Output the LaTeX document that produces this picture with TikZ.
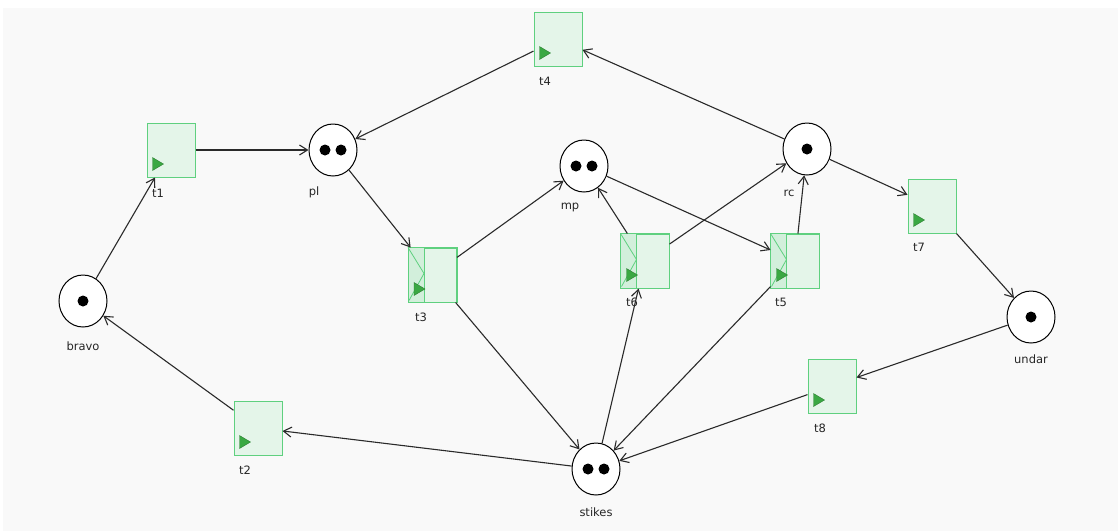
\documentclass[tikz,border=0pt]{standalone}
\usepackage{fontspec}
\setmainfont{DejaVu Sans}
\usetikzlibrary{arrows.meta,shapes.geometric,calc}
\definecolor{bg}{HTML}{F9F9F9}
\definecolor{tfill}{HTML}{E4F5E9}
\definecolor{tstrip}{HTML}{D2EFDB}
\definecolor{tdraw}{HTML}{5FD07F}
\definecolor{play}{HTML}{3AA843}
\definecolor{arc}{HTML}{2A2A2A}
\tikzset{
  place/.style={ellipse,draw=black,fill=white,line width=1pt,minimum width=48pt,minimum height=52pt,inner sep=0pt},
  trans/.style={rectangle,draw=tdraw,fill=tfill,line width=1pt,minimum width=48pt,minimum height=54pt,inner sep=0pt},
  lbl/.style={font=\fontsize{11.5}{13}\selectfont,text=black!85,inner sep=0pt},
  arcline/.style={draw=arc,line width=1.1pt,-{Straight Barb[length=8pt,width=10pt,line width=1.1pt]}},
  tok/.style={circle,fill=black,minimum size=11pt,inner sep=0pt}
}
\newcommand{\playicon}[1]{\fill[play,draw=play!75!black,line width=0.4pt] ($(#1.south west)+(6,-7)$) -- ++(0,-13) -- ++(11,6.5) -- cycle;}
\newcommand{\stripicon}[1]{%
  \fill[tstrip] (#1.north west) rectangle ($(#1.south west)+(16,0)$);
  \draw[tdraw,line width=0.9pt] ($(#1.north west)+(16,0)$) -- ($(#1.south west)+(16,0)$);
  \draw[tdraw,line width=0.8pt] (#1.north west) -- ($(#1.north west)+(16,26)$) -- ($(#1.south west)+(1,-2)$);
  \draw[tdraw,line width=1pt] (#1.north west) rectangle (#1.south east);}
\begin{document}
\begin{tikzpicture}[x=1pt,y=-1pt]
\useasboundingbox (0,0) rectangle (1118,531);
\fill[bg] (3,8) rectangle (1118,531);
% places
\node[place] (pl) at (333,150) {};
\node[place] (mp) at (584,166) {};
\node[place] (rc) at (807,149) {};
\node[place] (bravo) at (83,301) {};
\node[place] (undar) at (1031,317) {};
\node[place] (stikes) at (596,469) {};
% tokens
\node[tok] (pl1) at (325,150) {};
\node[tok] (pl2) at (341,150) {};
\node[tok] (mp1) at (576,166) {};
\node[tok] (mp2) at (592,166) {};
\node[tok] (rc1) at (807,149) {};
\node[tok] (bravo1) at (83,301) {};
\node[tok] (undar1) at (1031,317) {};
\node[tok] (st1) at (588,469) {};
\node[tok] (st2) at (604,469) {};
% transitions
\node[trans] (t4) at (558,39) {};
\node[trans] (t1) at (171,150) {};
\node[trans] (t3) at (432.5,275) {};
\node[trans] (t6) at (645,261) {};
\node[trans] (t5) at (795,261) {};
\node[trans] (t7) at (932,206) {};
\node[trans] (t8) at (832,386) {};
\node[trans] (t2) at (258,428) {};
\stripicon{t3}
\stripicon{t6}
\stripicon{t5}
\foreach \t in {t4,t1,t3,t6,t5,t7,t8,t2} {\playicon{\t}}
% labels
\node[lbl] (lpl) at (314,192) {pl};
\node[lbl] (lmp) at (570,207) {mp};
\node[lbl] (lrc) at (789,193) {rc};
\node[lbl] (lbravo) at (83,346) {bravo};
\node[lbl] (lundar) at (1031,359) {undar};
\node[lbl] (lstikes) at (596,512) {stikes};
\node[lbl] (lt4) at (545,81) {t4};
\node[lbl] (lt1) at (158,193) {t1};
\node[lbl] (lt3) at (421,317) {t3};
\node[lbl] (lt6) at (632,302) {t6};
\node[lbl] (lt5) at (781,302) {t5};
\node[lbl] (lt7) at (919,247) {t7};
\node[lbl] (lt8) at (820,428) {t8};
\node[lbl] (lt2) at (245,470) {t2};
% arcs
\draw[arcline] (t4) -- (pl);
\draw[arcline] (rc) -- (t4);
\draw[arcline] (t1) -- (pl);
\draw[arcline] (bravo) -- (t1);
\draw[arcline] (pl) -- (t3);
\draw[arcline] (t3) -- (mp);
\draw[arcline] (t3) -- (stikes);
\draw[arcline] (t6) -- (mp);
\draw[arcline] (t6) -- (rc);
\draw[arcline] (mp) -- (t5);
\draw[arcline] (t5) -- (rc);
\draw[arcline] (stikes) -- (t6);
\draw[arcline] (t5) -- (stikes);
\draw[arcline] (rc) -- (t7);
\draw[arcline] (t7) -- (undar);
\draw[arcline] (undar) -- (t8);
\draw[arcline] (t8) -- (stikes);
\draw[arcline] (stikes) -- (t2);
\draw[arcline] (t2) -- (bravo);
\end{tikzpicture}
\end{document}
